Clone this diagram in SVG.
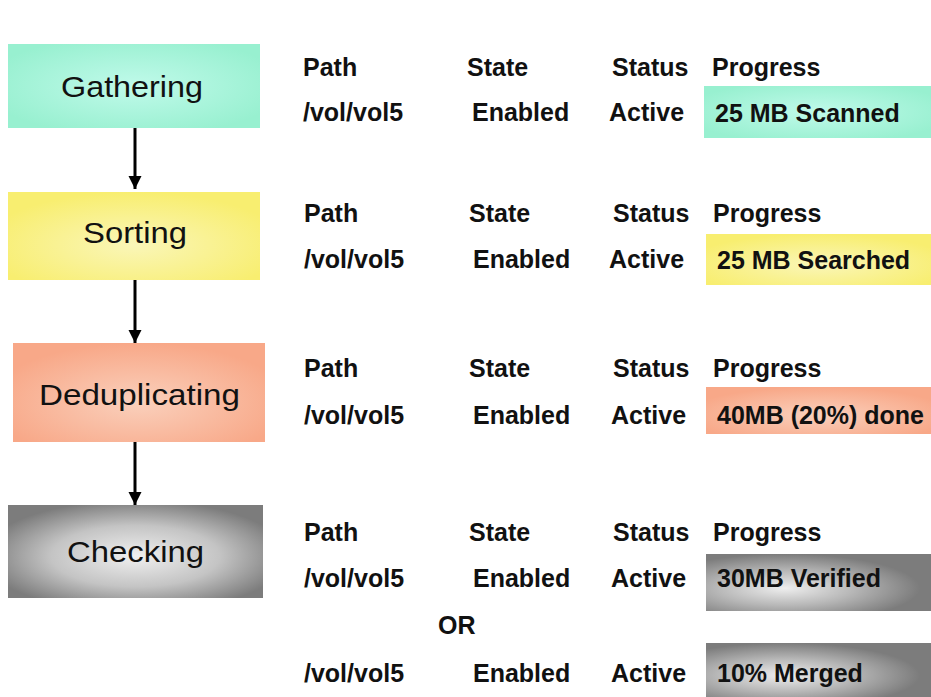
<svg xmlns="http://www.w3.org/2000/svg" width="931" height="697" viewBox="0 0 931 697">
<defs>
<radialGradient id="gMint" cx="0.5" cy="0.5" r="0.6"><stop offset="0" stop-color="#c0faea"/><stop offset="1" stop-color="#98f0d0"/></radialGradient>
<radialGradient id="gYel" cx="0.5" cy="0.6" r="0.6"><stop offset="0" stop-color="#faf6b8"/><stop offset="1" stop-color="#f8ee70"/></radialGradient>
<radialGradient id="gSal" cx="0.5" cy="0.6" r="0.6"><stop offset="0" stop-color="#fad0bc"/><stop offset="1" stop-color="#f8a888"/></radialGradient>
<radialGradient id="gGray" cx="0.5" cy="0.55" r="0.6"><stop offset="0" stop-color="#f0f0f0"/><stop offset="0.55" stop-color="#c4c4c4"/><stop offset="1" stop-color="#7c7c7c"/></radialGradient>
<radialGradient id="gGray2" cx="0.35" cy="0.6" r="0.6"><stop offset="0" stop-color="#eeeeee"/><stop offset="0.5" stop-color="#b8b8b8"/><stop offset="1" stop-color="#7c7c7c"/></radialGradient>
<marker id="ah" viewBox="0 0 10 10" refX="10" refY="5" markerWidth="4.5" markerHeight="4.5" orient="auto" markerUnits="strokeWidth"><path d="M0,0 L10,5 L0,10 z" fill="#000"/></marker>
</defs>
<style>
.lbl{font-family:"Liberation Sans",Arial,sans-serif;font-size:30px;fill:#111;}
.t{font-family:"Liberation Sans",Arial,sans-serif;font-size:25px;font-weight:bold;fill:#111;}
.conn{stroke:#000;stroke-width:3;fill:none;marker-end:url(#ah);}
</style>
<rect width="931" height="697" fill="#ffffff"/>
<g id="connectors">
<line class="conn" x1="135" y1="128" x2="135" y2="189"/>
<line class="conn" x1="135" y1="280" x2="135" y2="343"/>
<line class="conn" x1="135" y1="442" x2="135" y2="505"/>
</g>
<g id="gathering">
<rect x="8" y="44" width="252" height="84" fill="url(#gMint)"/>
<text class="lbl" x="61" y="97" textLength="142" lengthAdjust="spacingAndGlyphs">Gathering</text>
</g>
<g id="sorting">
<rect x="8" y="192" width="252" height="88" fill="url(#gYel)"/>
<text class="lbl" x="83" y="243" textLength="104" lengthAdjust="spacingAndGlyphs">Sorting</text>
</g>
<g id="deduplicating">
<rect x="13" y="343" width="252" height="99" fill="url(#gSal)"/>
<text class="lbl" x="39" y="405" textLength="201" lengthAdjust="spacingAndGlyphs">Deduplicating</text>
</g>
<g id="checking">
<rect x="8" y="505" width="255" height="93" fill="url(#gGray)"/>
<text class="lbl" x="67" y="562" textLength="137" lengthAdjust="spacingAndGlyphs">Checking</text>
</g>
<g id="row-gathering">
<text class="t" x="303" y="76">Path</text>
<text class="t" x="467" y="76">State</text>
<text class="t" x="612" y="76">Status</text>
<text class="t" x="712" y="76">Progress</text>
<text class="t" x="303" y="121">/vol/vol5</text>
<text class="t" x="472" y="121">Enabled</text>
<text class="t" x="609" y="121">Active</text>
<rect x="704" y="86" width="227" height="52" fill="url(#gMint)"/>
<text class="t" x="715" y="122">25 MB Scanned</text>
</g>
<g id="row-sorting">
<text class="t" x="304" y="222">Path</text>
<text class="t" x="469" y="222">State</text>
<text class="t" x="613" y="222">Status</text>
<text class="t" x="713" y="222">Progress</text>
<text class="t" x="304" y="268">/vol/vol5</text>
<text class="t" x="473" y="268">Enabled</text>
<text class="t" x="609" y="268">Active</text>
<rect x="706" y="234" width="225" height="51" fill="url(#gYel)"/>
<text class="t" x="717" y="269">25 MB Searched</text>
</g>
<g id="row-deduplicating">
<text class="t" x="304" y="377">Path</text>
<text class="t" x="469" y="377">State</text>
<text class="t" x="613" y="377">Status</text>
<text class="t" x="713" y="377">Progress</text>
<text class="t" x="304" y="424">/vol/vol5</text>
<text class="t" x="473" y="424">Enabled</text>
<text class="t" x="611" y="424">Active</text>
<rect x="706" y="387" width="225" height="47" fill="url(#gSal)"/>
<text class="t" x="717" y="424">40MB (20%) done</text>
</g>
<g id="row-checking">
<text class="t" x="304" y="541">Path</text>
<text class="t" x="469" y="541">State</text>
<text class="t" x="613" y="541">Status</text>
<text class="t" x="713" y="541">Progress</text>
<text class="t" x="304" y="587">/vol/vol5</text>
<text class="t" x="473" y="587">Enabled</text>
<text class="t" x="611" y="587">Active</text>
<rect x="706" y="554" width="225" height="57" fill="url(#gGray2)"/>
<text class="t" x="717" y="587">30MB Verified</text>
<text class="t" x="438" y="634">OR</text>
<text class="t" x="304" y="682">/vol/vol5</text>
<text class="t" x="473" y="682">Enabled</text>
<text class="t" x="611" y="682">Active</text>
<rect x="706" y="643" width="225" height="54" fill="url(#gGray2)"/>
<text class="t" x="717" y="682">10% Merged</text>
</g>
</svg>
